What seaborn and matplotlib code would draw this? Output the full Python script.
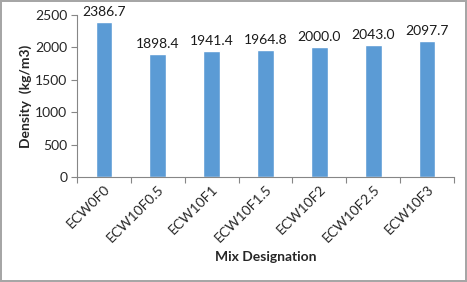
import matplotlib
matplotlib.use("Agg")
import matplotlib.pyplot as plt
import seaborn as sns
import pandas as pd
import numpy as np

mixes = ["ECW0F0", "ECW10F0.5", "ECW10F1", "ECW10F1.5", "ECW10F2", "ECW10F2.5", "ECW10F3"]
density = [2386.7, 1898.4, 1941.4, 1964.8, 2000.0, 2043.0, 2097.7]

df = pd.DataFrame({"mix": mixes, "density": density})

sns.set_style("white")
plt.rcParams['font.family'] = ['Lato', 'DejaVu Sans']

fig = plt.figure(figsize=(4.67, 2.82), dpi=100)
fig.patch.set_edgecolor("#a6a6a6")
fig.patch.set_linewidth(1.5)
ax = fig.add_axes([0.165, 0.372, 0.807, 0.575])

sns.barplot(data=df, x="mix", y="density", color="#5b9bd5", width=0.31,
            saturation=1, ax=ax)

# value labels above bars
for i, v in enumerate(density):
    ax.text(i, v + 60, f"{v:.1f}", ha="center", va="bottom", fontsize=10, color="#1a1a1a")

ax.set_ylim(0, 2500)
ax.set_xlim(-0.5, 6.5)
ax.set_yticks(np.arange(0, 2501, 500))
ax.tick_params(axis="y", labelsize=10, length=4, width=0.8, color="#868686", left=True, pad=3)
ax.tick_params(axis="x", which="major", length=0, labelsize=10, pad=4)
# ticks between categories like excel
ax.set_xticks(np.arange(-0.5, 7, 1), minor=True)
ax.tick_params(axis="x", which="minor", length=4, width=0.8, color="#868686", bottom=True)
plt.setp(ax.get_xticklabels(), rotation=45, ha="right", rotation_mode="anchor")

for s in ["top", "right"]:
    ax.spines[s].set_visible(False)
for s in ["left", "bottom"]:
    ax.spines[s].set_color("#868686")
    ax.spines[s].set_linewidth(0.8)

ax.set_xlabel("Mix Designation", fontsize=10, fontweight="bold", labelpad=5)
ax.set_ylabel("Density  (kg/m3)", fontsize=10, fontweight="bold", labelpad=2)

fig.savefig("out.png", dpi=100, edgecolor=fig.get_edgecolor())
